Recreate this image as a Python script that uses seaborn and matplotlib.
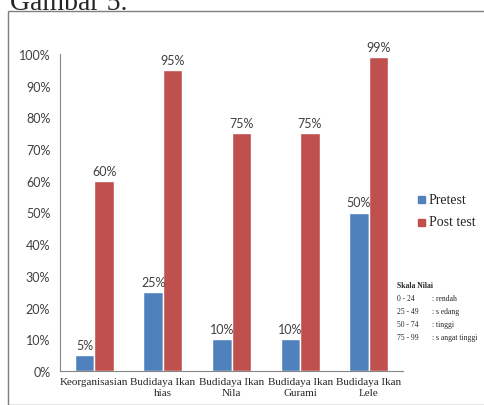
import matplotlib
matplotlib.use("Agg")
import matplotlib.pyplot as plt
import seaborn as sns
import pandas as pd
from matplotlib.ticker import FixedLocator, PercentFormatter
from matplotlib.patches import Rectangle

categories = ["Keorganisasian", "Budidaya Ikan\nhias", "Budidaya Ikan\nNila",
              "Budidaya Ikan\nGurami", "Budidaya Ikan\nLele"]
pretest = [5, 25, 10, 10, 50]
posttest = [60, 95, 75, 75, 99]
series_names = ["Pretest", "Post test"]
scale_ranges = ["0 - 24", "25 - 49", "50 - 74", "75 - 99"]
scale_labels = [": rendah", ": s edang", ": tinggi", ": s angat tinggi"]

df = pd.DataFrame({
    "kategori": categories * 2,
    "nilai": [v / 100 for v in pretest + posttest],
    "seri": [series_names[0]] * 5 + [series_names[1]] * 5,
})

sns.set_style("white")
fig = plt.figure(figsize=(4.85, 4.06), dpi=100)
ax = fig.add_axes([60 / 485, 1 - 372 / 406, 343 / 485, 317 / 406])

palette = {"Pretest": "#4F81BD", "Post test": "#C0504D"}
sns.barplot(data=df, x="kategori", y="nilai", hue="seri", palette=palette,
            width=0.57, gap=0, ax=ax, saturation=1, legend=False)

ax.set_ylim(0, 1.0)
ax.set_xlim(-0.5, 4.5)
ax.yaxis.set_major_locator(FixedLocator([i / 10 for i in range(11)]))
ax.yaxis.set_major_formatter(PercentFormatter(1.0, decimals=0))
ax.set_xlabel("")
ax.set_ylabel("")

for s in ["top", "right"]:
    ax.spines[s].set_visible(False)
for s in ["left", "bottom"]:
    ax.spines[s].set_color("#868686")
    ax.spines[s].set_linewidth(0.8)

ax.tick_params(axis="y", direction="out", length=4, width=0.8, color="#868686",
               labelsize=9, pad=3, labelcolor="#404040")
for lab in ax.get_yticklabels():
    lab.set_family("Lato")
ax.tick_params(axis="x", which="major", length=0, labelsize=8, pad=4)
for lab in ax.get_xticklabels():
    lab.set_family("Liberation Serif")
    lab.set_linespacing(1.3)
ax.xaxis.set_minor_locator(FixedLocator([i + 0.5 for i in range(-1, 5)]))
ax.tick_params(axis="x", which="minor", direction="out", length=4, width=0.8,
               color="#868686")

for cont in ax.containers:
    labels = [f"{int(round(b.get_height() * 100))}%" for b in cont]
    ax.bar_label(cont, labels=labels, padding=3, fontsize=9, family="Lato",
                 color="#404040")

# legend
fig.patches.append(Rectangle((418 / 485, 1 - 204 / 406), 7 / 485, 7 / 406,
                             transform=fig.transFigure, color="#4F81BD"))
fig.patches.append(Rectangle((418 / 485, 1 - 227 / 406), 7 / 485, 7 / 406,
                             transform=fig.transFigure, color="#C0504D"))
fig.text(429 / 485, 1 - 200 / 406, series_names[0], fontsize=10,
         family="Liberation Serif", va="center")
fig.text(429 / 485, 1 - 223 / 406, series_names[1], fontsize=10,
         family="Liberation Serif", va="center")

# skala nilai
fig.text(397 / 485, 1 - 286 / 406, "Skala Nilai", fontsize=5.5,
         family="Liberation Serif", va="center", weight="bold")
for i, (r, l) in enumerate(zip(scale_ranges, scale_labels)):
    y = 1 - (299 + 13 * i) / 406
    fig.text(397 / 485, y, r, fontsize=5.5, family="Liberation Serif", va="center")
    fig.text(432 / 485, y, l, fontsize=5.5, family="Liberation Serif", va="center")

# frame and caption
fig.patches.append(Rectangle((8 / 485, 0), 1.2, 1 - 12 / 406,
                             transform=fig.transFigure, fill=False,
                             edgecolor="#7f7f7f", linewidth=1))
fig.text(10 / 485, 1 - 10 / 406, "Gambar 5.", fontsize=20,
         family="Liberation Serif", va="baseline", ha="left")

fig.savefig("out.png", dpi=100)
